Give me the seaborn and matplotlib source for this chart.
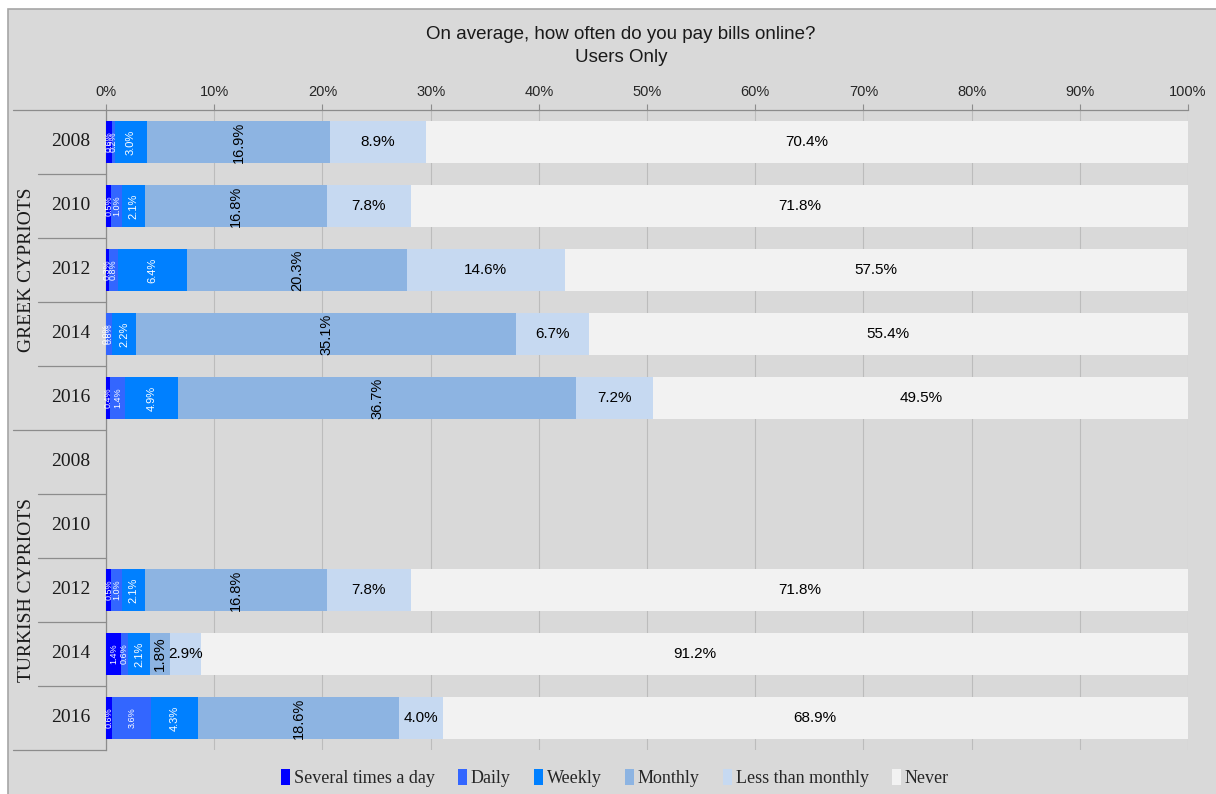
import numpy as np
import pandas as pd
import matplotlib
matplotlib.use("Agg")
import matplotlib.pyplot as plt
from matplotlib.patches import Rectangle, Patch
import seaborn as sns

# ---- data -------------------------------------------------------------
groups = ["GREEK CYPRIOTS"] * 5 + ["TURKISH CYPRIOTS"] * 5
years = ["2008", "2010", "2012", "2014", "2016"] * 2

series_names = ["Several times a day", "Daily", "Weekly", "Monthly",
                "Less than monthly", "Never"]
several = [0.6, 0.5, 0.3, 0.0, 0.4, np.nan, np.nan, 0.5, 1.4, 0.6]
daily = [0.2, 1.0, 0.8, 0.6, 1.4, np.nan, np.nan, 1.0, 0.6, 3.6]
weekly = [3.0, 2.1, 6.4, 2.2, 4.9, np.nan, np.nan, 2.1, 2.1, 4.3]
monthly = [16.9, 16.8, 20.3, 35.1, 36.7, np.nan, np.nan, 16.8, 1.8, 18.6]
less_monthly = [8.9, 7.8, 14.6, 6.7, 7.2, np.nan, np.nan, 7.8, 2.9, 4.0]
never = [70.4, 71.8, 57.5, 55.4, 49.5, np.nan, np.nan, 71.8, 91.2, 68.9]

x_ticks = [0, 10, 20, 30, 40, 50, 60, 70, 80, 90, 100]
x_tick_labels = [f"{t}%" for t in x_ticks]

colors = ["#0000FF", "#3366FF", "#0080FF", "#8DB4E2", "#C6D9F1", "#F2F2F2"]

# ---- build table ------------------------------------------------------
keys = [f"{g} {y}" for g, y in zip(groups, years)]
values = np.array([several, daily, weekly, monthly, less_monthly, never], dtype=float)
cums = np.nancumsum(values, axis=0)
cums[np.isnan(values)] = np.nan

frames = []
for i, name in enumerate(series_names):
    frames.append(pd.DataFrame({"row": keys, "series": name,
                                "value": values[i], "cum": cums[i]}))
df = pd.concat(frames, ignore_index=True)

# ---- figure -----------------------------------------------------------
sns.set_theme(style="white")
plt.rcParams["font.family"] = ["Liberation Sans", "DejaVu Sans"]
SERIF = ["Liberation Serif", "DejaVu Serif"]

W, H = 1216, 794
fig = plt.figure(figsize=(W / 100, H / 100), dpi=100, facecolor="white")
fig.patches.append(Rectangle((8 / W, -0.02), 1.05, 1 - 9 / H + 0.02,
                             transform=fig.transFigure, facecolor="#D9D9D9",
                             edgecolor="#A6A6A6", linewidth=1.2, zorder=-10))

ax = fig.add_axes([106 / W, 1 - 750 / H, 1082 / W, 640 / H])
ax.set_facecolor("none")

# stacked bars: cumulative totals drawn from the outermost segment inward
for i in reversed(range(len(series_names))):
    sub = df[df["series"] == series_names[i]]
    sns.barplot(data=sub, y="row", x="cum", order=keys, orient="h",
                color=colors[i], saturation=1, width=0.66, errorbar=None,
                linewidth=0, ax=ax, zorder=3)

ax.set_xlim(0, 100)
ax.set_ylim(len(keys) - 0.5, -0.5)

# value labels
for i in range(len(series_names)):
    for r in range(len(keys)):
        v = values[i, r]
        if np.isnan(v):
            continue
        mid = cums[i, r] - v / 2
        txt = f"{v:.1f}%"
        if i in (0, 1):
            ax.text(mid, r, txt, rotation=90, ha="center", va="center",
                    color="white", fontsize=6.5, zorder=5)
        elif i == 2:
            ax.text(mid, r, txt, rotation=90, ha="center", va="center",
                    color="white", fontsize=8, zorder=5)
        elif i == 3:
            ax.text(mid, r, txt, rotation=90, ha="center", va="center",
                    color="black", fontsize=10.5 if v >= 5 else 11, zorder=5)
        else:
            ax.text(mid, r, txt, ha="center", va="center",
                    color="black", fontsize=11, zorder=5)

# axes styling
ax.set_axisbelow(True)
ax.xaxis.tick_top()
ax.set_xticks(x_ticks)
ax.set_xticklabels(x_tick_labels, fontsize=10.5, color="#262626")
ax.tick_params(axis="x", which="both", top=True, bottom=False, length=4,
               width=0.8, color="#8C8C8C", pad=4, direction="out")
ax.grid(axis="x", color="#BCBCBC", linewidth=0.8)
ax.grid(axis="y", visible=False)
ax.set_xlabel("")
ax.set_ylabel("")
ax.set_yticks([])
for side in ("right", "bottom"):
    ax.spines[side].set_visible(False)
for side in ("left", "top"):
    ax.spines[side].set_color("#8C8C8C")
    ax.spines[side].set_linewidth(0.9)

# category axis: years and group boxes on the left
ytr = ax.get_yaxis_transform()
x_year = (71 - 106) / 1082
x_sep = (38 - 106) / 1082
x_grp_sep = (13 - 106) / 1082
x_grp = (27 - 106) / 1082
for r, y in enumerate(years):
    ax.text(x_year, r, y, transform=ytr, ha="center", va="center",
            family=SERIF, fontsize=14, color="#1A1A1A")
for b in np.arange(-0.5, len(keys), 1.0):
    start = x_grp_sep if b in (-0.5, 4.5, 9.5) else x_sep
    ax.plot([start, 0], [b, b], transform=ytr, color="#8C8C8C",
            linewidth=0.9, clip_on=False)
for gname, center in (("GREEK CYPRIOTS", 2.0), ("TURKISH CYPRIOTS", 7.0)):
    ax.text(x_grp, center, gname, transform=ytr, rotation=90, ha="center",
            va="center", family=SERIF, fontsize=14, color="#1A1A1A")

# title
fig.text(621 / W, 1 - 46 / H, "On average, how often do you pay bills online?\nUsers Only",
         ha="center", va="center", linespacing=1.45, fontsize=13.5,
         color="#1A1A1A")

# legend
handles = [Patch(facecolor=c, edgecolor="none") for c in colors]
fig.legend(handles, series_names, loc="center", bbox_to_anchor=(615 / W, 1 - 778 / H),
           ncol=6, frameon=False, handlelength=0.5, handleheight=1.0,
           handletextpad=0.2, columnspacing=1.3,
           prop={"family": SERIF, "size": 13})

fig.savefig("out.png", dpi=100, facecolor="white")
